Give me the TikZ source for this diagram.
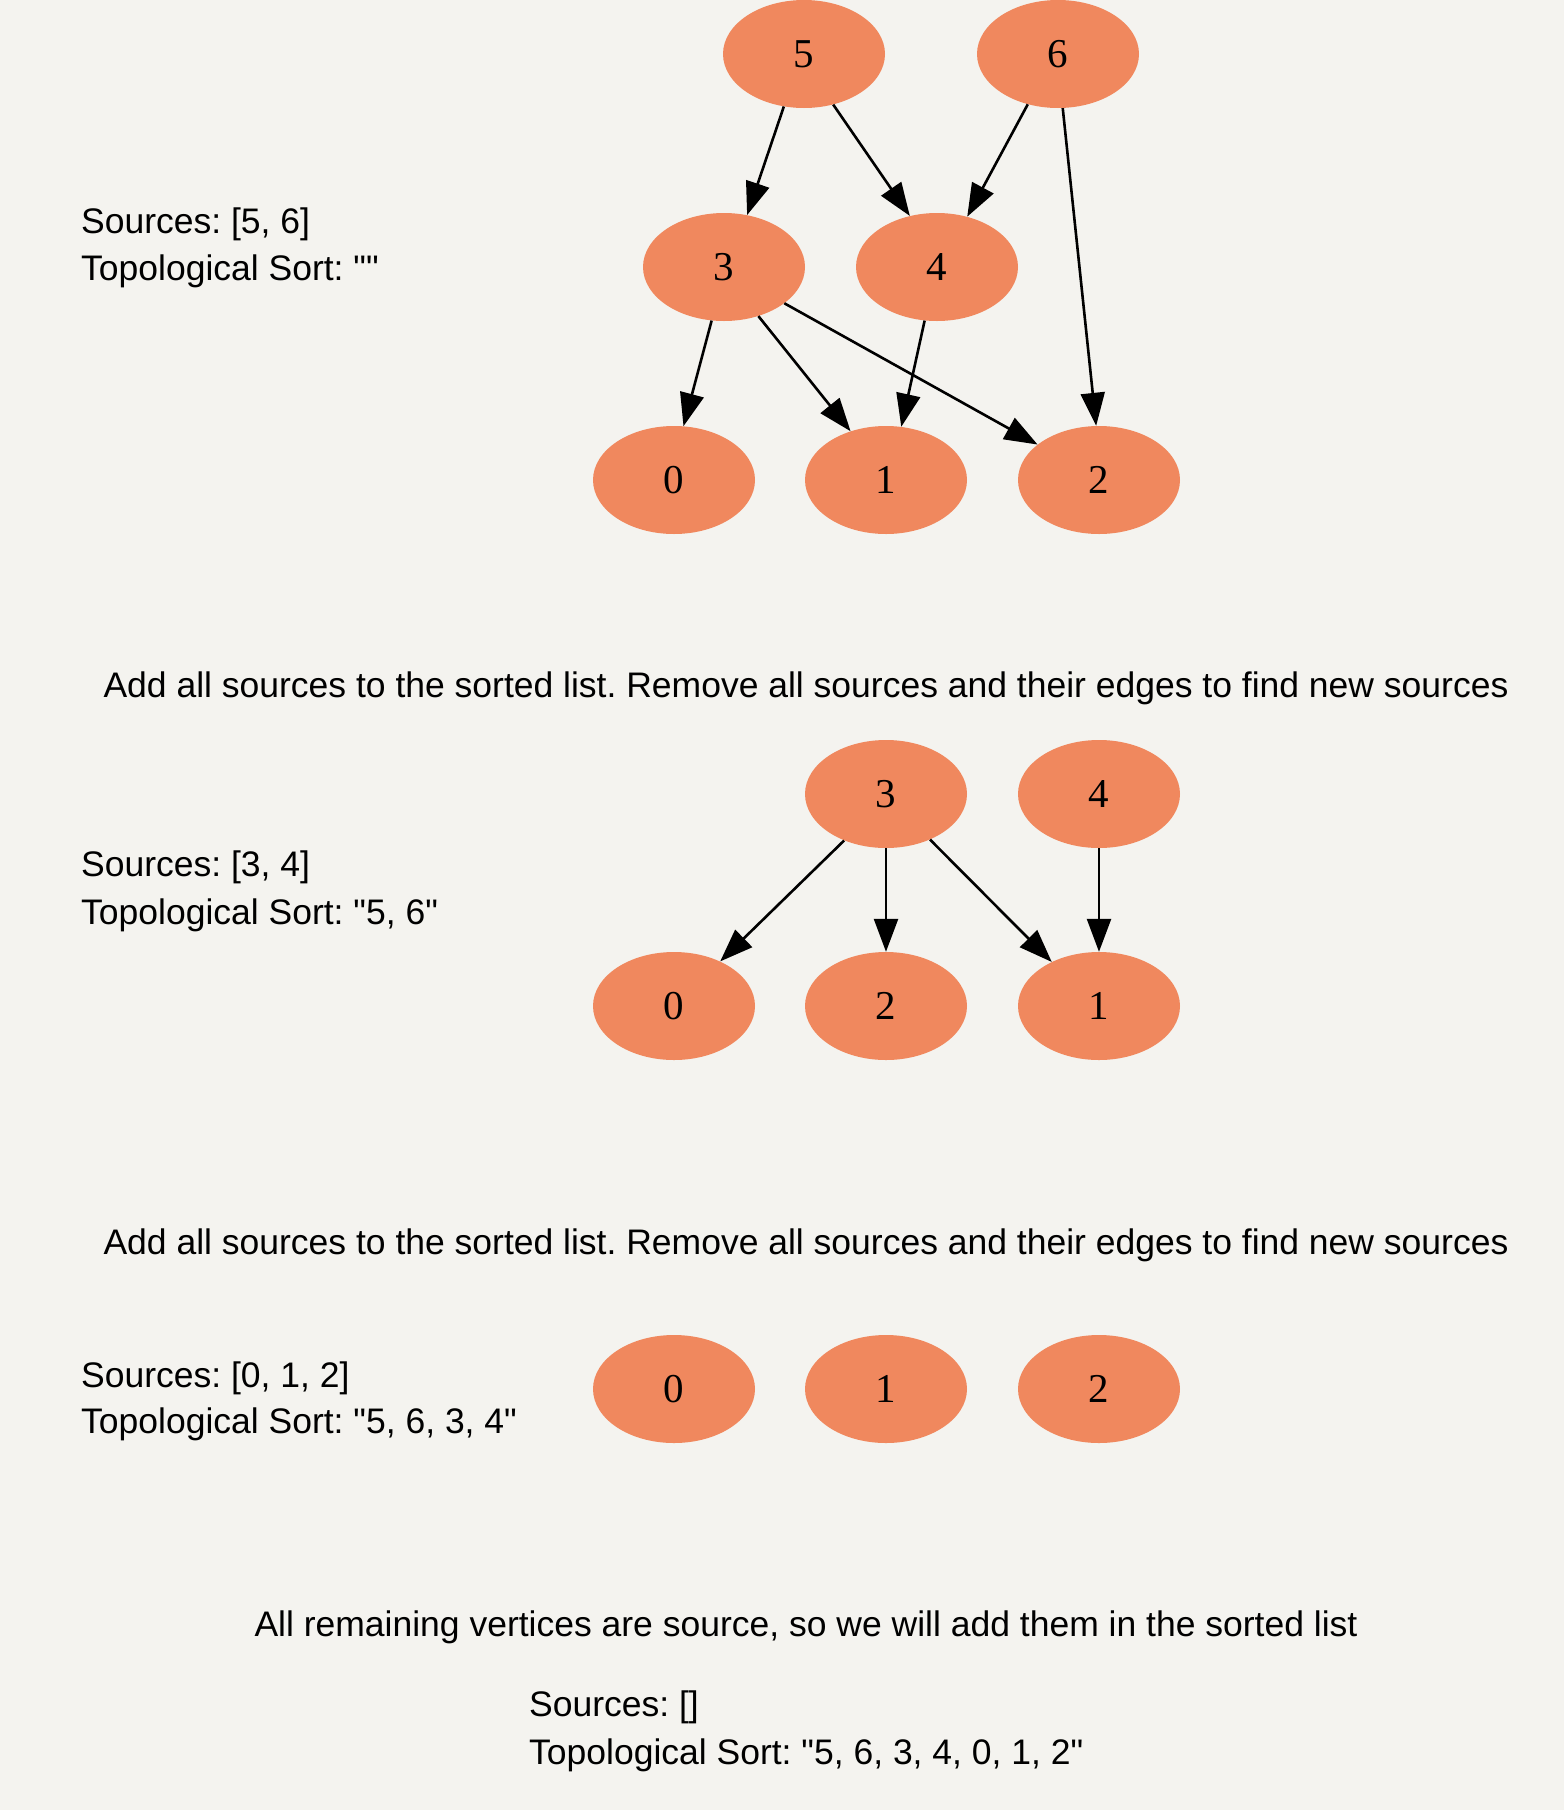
\documentclass[tikz,border=0pt]{standalone}
\usepackage{fontspec}
\setmainfont{Liberation Sans}[Ligatures=TeXOff]
\newfontfamily\vertexfont{Liberation Serif}
\usetikzlibrary{arrows.meta,shapes.geometric}
\definecolor{vertexfill}{RGB}{240,136,94}
\definecolor{pagebg}{RGB}{244,243,239}
\frenchspacing

\begin{document}
\begin{tikzpicture}[x=1pt, y=-1pt,
    vertex/.style={ellipse, fill=vertexfill, minimum width=162pt, minimum height=108pt, inner sep=0pt, font=\vertexfont\fontsize{41}{41}\selectfont},
    note/.style={anchor=base west, inner sep=0pt, font=\fontsize{35.5}{35.5}\selectfont},
    caption/.style={anchor=base, inner sep=0pt, font=\fontsize{35.5}{35.5}\selectfont},
    edge/.style={-{Triangle[length=33pt, width=24pt]}, line width=2.6pt}
]
\fill[pagebg] (0,0) rectangle (1564,1810);

% first step
\node[vertex] (a5) at (804,54) {5};
\node[vertex] (a6) at (1058,54) {6};
\node[vertex] (a3) at (724,267) {3};
\node[vertex] (a4) at (937,267) {4};
\node[vertex] (a0) at (674,480) {0};
\node[vertex] (a1) at (886,480) {1};
\node[vertex] (a2) at (1099,480) {2};

\node[note] (src1) at (81,233) {Sources: [5, 6]};
\node[note] (sort1) at (81,280) {Topological Sort: ""};

\draw[edge] (a5.249) -- (a3.66);
\draw[edge] (a5.300) -- (a4.118);
\draw[edge] (a6.239) -- (a4.59);
\draw[edge] (a6.275) -- (a2.93);
\draw[edge] (a3.257) -- (a0.80);
\draw[edge] (a3.305) -- (a1.126);
\draw[edge] (a3.329) -- (a2.150);
\draw[edge] (a4.257) -- (a1.74);

\node[caption] (step1) at (806,697) {Add all sources to the sorted list. Remove all sources and their edges to find new sources};

% second step
\node[vertex] (b3) at (886,794) {3};
\node[vertex] (b4) at (1099,794) {4};
\node[vertex] (b0) at (674,1006) {0};
\node[vertex] (b2) at (886,1006) {2};
\node[vertex] (b1) at (1099,1006) {1};

\node[note] (src2) at (81,876) {Sources: [3, 4]};
\node[note] (sort2) at (81,924) {Topological Sort: "5, 6"};

\draw[edge] (b3.228) -- (b0.44);
\draw[edge] (b3.270) -- (b2.90);
\draw[edge] (b3.314) -- (b1.137);
\draw[edge] (b4.270) -- (b1.90);

\node[caption] (step2) at (806,1254) {Add all sources to the sorted list. Remove all sources and their edges to find new sources};

% third step
\node[vertex] (c0) at (674,1389) {0};
\node[vertex] (c1) at (886,1389) {1};
\node[vertex] (c2) at (1099,1389) {2};

\node[note] (src3) at (81,1387) {Sources: [0, 1, 2]};
\node[note] (sort3) at (81,1433) {Topological Sort: "5, 6, 3, 4"};

\node[caption] (step3) at (806,1636) {All remaining vertices are source, so we will add them in the sorted list};

\node[note] (src4) at (529,1716) {Sources: []};
\node[note] (sort4) at (529,1764) {Topological Sort: "5, 6, 3, 4, 0, 1, 2"};
\end{tikzpicture}
\end{document}
